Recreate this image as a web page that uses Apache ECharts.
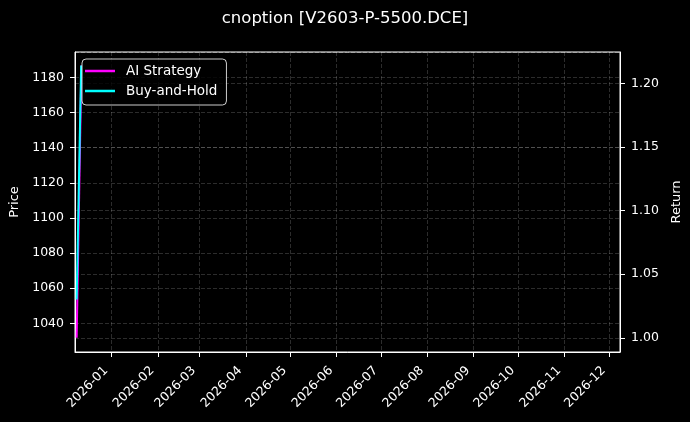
<!DOCTYPE html>
<html>
<head>
<meta charset="utf-8">
<script src="https://cdn.jsdelivr.net/npm/echarts@6/dist/echarts.min.js"></script>
<style>
html,body{margin:0;padding:0;background:#000;}
#chart{width:690px;height:422px;}
</style>
</head>
<body>
<div id="chart"></div>
<script>
// ---- data ----
const titleText = 'cnoption [V2603-P-5500.DCE]';
const seriesNames = ['AI Strategy', 'Buy-and-Hold'];
const aiDates = ['2025-12-08 12:00', '2025-12-11 16:00'];
const aiReturns = [1.0, 1.214];
const bhDates = ['2025-12-08 12:00', '2025-12-11 12:00'];
const bhReturns = [1.03, 1.214];
const priceRange = [1023.7, 1194.4];   // left axis extent
const priceStep = 20;
const returnRange = [0.9888, 1.2246];  // right axis extent
const returnStep = 0.05;
const dateRange = ['2025-12-07 09:00', '2026-12-08 04:00'];

function toTs(s){ const [d,t] = s.split(' '); const [y,m,dd] = d.split('-').map(Number); const [h,mi] = (t||'00:00').split(':').map(Number); return new Date(y, m-1, dd, h, mi).getTime(); }
const aiData = aiDates.map((d,i)=>[toTs(d), aiReturns[i]]);
const bhData = bhDates.map((d,i)=>[toTs(d), bhReturns[i]]);

const white = '#ffffff';
const gridLine = {show:true, lineStyle:{color:'rgba(255,255,255,0.22)', width:0.8, type:[4,2]}};
const font = 'DejaVu Sans';
const DAY = 86400000;

const chart = echarts.init(document.getElementById('chart'), null, {renderer:'canvas'});
chart.setOption({
  backgroundColor:'#000',
  animation:false,
  textStyle:{fontFamily:font},
  title:{text:titleText, left:'center', top:5, textStyle:{color:white, fontSize:16.5, fontWeight:'normal', fontFamily:font}},
  legend:{
    orient:'vertical', left:82, top:59, padding:[4,9,6,3],
    itemWidth:30, itemHeight:2.5, itemGap:4, icon:'rect',
    textStyle:{color:white, fontSize:13.5, lineHeight:16, fontFamily:font, padding:[0,0,0,6]},
    borderColor:'rgba(255,255,255,0.8)', borderWidth:1, borderRadius:4,
    backgroundColor:'rgba(0,0,0,0.8)',
    data:seriesNames
  },
  grid:{left:75, right:70, top:52, bottom:70, show:true, borderColor:white, borderWidth:1, backgroundColor:'#000', containLabel:false, outerBoundsMode:'none'},
  xAxis:{
    type:'time', min:toTs(dateRange[0]), max:toTs(dateRange[1]),
    splitNumber:12, minInterval:28*DAY, maxInterval:31*DAY,
    axisLine:{show:true, lineStyle:{color:white}},
    axisTick:{show:true, length:5, lineStyle:{color:white}},
    axisLabel:{color:white, fontSize:12.5, rotate:45, margin:11, padding:[0,8,0,0], showMinLabel:false, showMaxLabel:false, fontFamily:font,
      formatter:function(v){ const d=new Date(v); return d.getFullYear()+'-'+String(d.getMonth()+1).padStart(2,'0'); }},
    splitLine:gridLine
  },
  yAxis:[
    {
      type:'value', position:'left', min:priceRange[0], max:priceRange[1],
      minInterval:priceStep, maxInterval:priceStep, splitNumber:8,
      name:'Price', nameLocation:'middle', nameGap:51,
      nameTextStyle:{color:white, fontSize:13, fontFamily:font},
      axisLine:{show:true, lineStyle:{color:white}},
      axisTick:{show:true, length:5, lineStyle:{color:white}},
      axisLabel:{color:white, fontSize:12.5, margin:11, showMinLabel:false, showMaxLabel:false, fontFamily:font,
        formatter:function(v){ return String(Math.round(v)); }},
      splitLine:gridLine
    },
    {
      type:'value', position:'right', min:returnRange[0], max:returnRange[1],
      minInterval:returnStep, maxInterval:returnStep, splitNumber:5,
      name:'Return', nameLocation:'middle', nameGap:45,
      nameTextStyle:{color:white, fontSize:13, fontFamily:font},
      axisLine:{show:true, lineStyle:{color:white}},
      axisTick:{show:true, length:5, lineStyle:{color:white}},
      axisLabel:{color:white, fontSize:12.5, margin:11, showMinLabel:false, showMaxLabel:false, fontFamily:font,
        formatter:function(v){ return v.toFixed(2); }},
      splitLine:gridLine
    }
  ],
  series:[
    {name:seriesNames[0], type:'line', yAxisIndex:1, data:aiData, showSymbol:false, color:'#ff00ff', lineStyle:{width:2, color:'#ff00ff'}},
    {name:seriesNames[1], type:'line', yAxisIndex:1, data:bhData, showSymbol:false, color:'#00ffff', lineStyle:{width:2, color:'#00ffff'}}
  ]
});
</script>
</body>
</html>
